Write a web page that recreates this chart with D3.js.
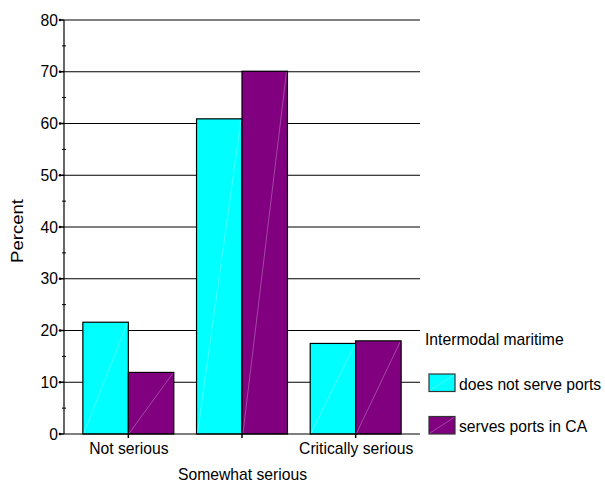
<!DOCTYPE html>
<html>
<head>
<meta charset="utf-8">
<script src="https://cdn.jsdelivr.net/npm/d3@7"></script>
<style>
  html, body { margin: 0; padding: 0; background: #fff; }
  svg { display: block; }
  text { font-family: "Liberation Sans", Arial, sans-serif; fill: #000; }
</style>
</head>
<body>
<svg id="chart" width="605" height="481"></svg>
<script>
// ---- data ----
const categories = ["Not serious", "Somewhat serious", "Critically serious"];
const seriesNames = ["does not serve ports", "serves ports in CA"];
const doesNotServe = [21.6, 60.9, 17.5];
const servesCA = [11.9, 70.1, 18.0];
const yTicks = [0, 10, 20, 30, 40, 50, 60, 70, 80];
const yMinorTicks = [5, 15, 25, 35, 45, 55, 65, 75];
const legendTitle = "Intermodal maritime";
const yTitle = "Percent";
const colors = ["#00FFFF", "#800080"];

// ---- layout ----
const svg = d3.select("#chart");
const pLeft = 64, pRight = 420, pTop = 20, pBottom = 434;
const fontSize = 15.7;

const y = d3.scaleLinear().domain([0, 80]).range([pBottom, pTop]);
const x0 = d3.scaleBand().domain(categories).range([pLeft, pRight])
  .paddingInner(0.2).paddingOuter(0.166);
const x1 = d3.scaleBand().domain(seriesNames).range([0, x0.bandwidth()]);

// gridlines
svg.append("g").selectAll("line").data(yTicks.filter(d => d > 0)).join("line")
  .attr("x1", pLeft).attr("x2", pRight)
  .attr("y1", d => y(d)).attr("y2", d => y(d))
  .attr("stroke", "#000").attr("stroke-width", 1);

// bars
const series = [doesNotServe, servesCA];
const barData = [];
categories.forEach((c, i) => {
  seriesNames.forEach((s, j) => barData.push({ c, s, v: series[j][i], j }));
});
const bars = svg.append("g");
bars.selectAll("rect").data(barData).join("rect")
  .attr("x", d => x0(d.c) + x1(d.s))
  .attr("y", d => y(d.v))
  .attr("width", x1.bandwidth())
  .attr("height", d => y(0) - y(d.v))
  .attr("fill", d => colors[d.j])
  .attr("stroke", "#000").attr("stroke-width", 1.2);
bars.selectAll("line").data(barData).join("line")
  .attr("x1", d => x0(d.c) + x1(d.s) + 1)
  .attr("y1", y(0) - 1)
  .attr("x2", d => x0(d.c) + x1(d.s) + x1.bandwidth() - 1)
  .attr("y2", d => y(d.v) + 1)
  .attr("stroke", "#fff").attr("stroke-opacity", 0.35).attr("stroke-width", 0.8);

// y axis
const yAxis = svg.append("g");
yAxis.append("line").attr("x1", pLeft).attr("x2", pLeft)
  .attr("y1", pTop).attr("y2", pBottom).attr("stroke", "#000").attr("stroke-width", 1.2);
yAxis.selectAll("line.maj").data(yTicks).join("line").attr("class", "maj")
  .attr("x1", pLeft - 4).attr("x2", pLeft)
  .attr("y1", d => y(d)).attr("y2", d => y(d))
  .attr("stroke", "#000").attr("stroke-width", 1.5);
yAxis.selectAll("circle").data(yTicks).join("circle")
  .attr("cx", pLeft - 4).attr("cy", d => y(d)).attr("r", 1.3).attr("fill", "#000");
yAxis.selectAll("line.min").data(yMinorTicks).join("line").attr("class", "min")
  .attr("x1", pLeft - 2).attr("x2", pLeft + 2)
  .attr("y1", d => y(d)).attr("y2", d => y(d))
  .attr("stroke", "#000").attr("stroke-width", 1);
yAxis.selectAll("text").data(yTicks).join("text")
  .attr("x", pLeft - 6).attr("y", d => y(d) + 5.5)
  .attr("text-anchor", "end").attr("font-size", fontSize)
  .text(d => d);

// x axis
const xAxis = svg.append("g");
xAxis.append("line").attr("x1", pLeft).attr("x2", pRight)
  .attr("y1", pBottom).attr("y2", pBottom).attr("stroke", "#000").attr("stroke-width", 1.2);
xAxis.selectAll("line.tick").data(categories).join("line").attr("class", "tick")
  .attr("x1", d => x0(d) + x0.bandwidth() / 2).attr("x2", d => x0(d) + x0.bandwidth() / 2)
  .attr("y1", pBottom).attr("y2", pBottom + 4)
  .attr("stroke", "#000").attr("stroke-width", 1.5);
xAxis.selectAll("text").data(categories).join("text")
  .attr("x", d => x0(d) + x0.bandwidth() / 2 + 0.5)
  .attr("y", (d, i) => i % 2 === 0 ? 454 : 479.5)
  .attr("text-anchor", "middle").attr("font-size", fontSize)
  .text(d => d);

// y title
svg.append("text")
  .attr("transform", `translate(22.5, 231) rotate(-90)`)
  .attr("text-anchor", "middle").attr("font-size", fontSize)
  .attr("textLength", 64).attr("lengthAdjust", "spacingAndGlyphs")
  .text(yTitle);

// legend
const lg = svg.append("g");
lg.append("text").attr("x", 425).attr("y", 344.5).attr("font-size", fontSize).text(legendTitle);
const legendY = [374, 416.5];
seriesNames.forEach((s, j) => {
  lg.append("rect").attr("x", 429).attr("y", legendY[j])
    .attr("width", 26).attr("height", 17.5)
    .attr("fill", colors[j]).attr("stroke", "#333").attr("stroke-width", 1.2);
  lg.append("line").attr("x1", 430).attr("y1", legendY[j] + 16.5)
    .attr("x2", 454).attr("y2", legendY[j] + 1)
    .attr("stroke", "#fff").attr("stroke-opacity", 0.35).attr("stroke-width", 0.8);
  lg.append("text").attr("x", 459).attr("y", legendY[j] + 15.5)
    .attr("font-size", fontSize).text(s);
});
</script>
</body>
</html>
